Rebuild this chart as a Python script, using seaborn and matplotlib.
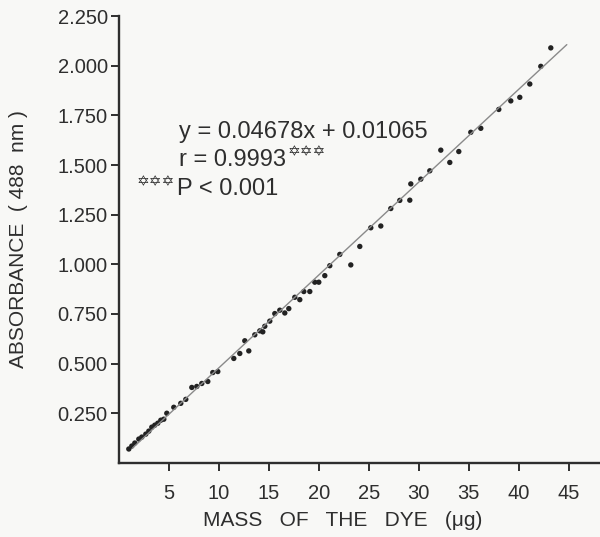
import numpy as np
import pandas as pd
import matplotlib
matplotlib.use("Agg")
import matplotlib.pyplot as plt
import seaborn as sns

# Data
mass_ug = [1.0, 1.3, 1.6, 2.0, 2.3, 2.7, 3.0, 3.3, 3.6, 3.9, 4.2, 4.5, 4.8,
           5.5, 6.2, 6.7, 7.3, 7.8, 8.3, 8.9, 9.4, 9.9, 11.5, 12.1, 12.6,
           13.0, 13.6, 14.1, 14.4, 14.6, 15.1, 15.6, 16.1, 16.6, 17.0, 17.6,
           18.1, 18.5, 19.1, 19.6, 20.0, 20.6, 21.1, 22.1, 23.2, 24.1, 25.2,
           26.2, 27.2, 28.1, 29.1, 29.2, 30.2, 31.1, 32.2, 33.1, 34.0, 35.2,
           36.2, 38.0, 39.2, 40.1, 41.1, 42.2, 43.2]
absorbance = [0.070, 0.085, 0.100, 0.120, 0.130, 0.145, 0.160, 0.180, 0.190,
              0.200, 0.215, 0.220, 0.250, 0.280, 0.300, 0.320, 0.380, 0.385,
              0.400, 0.410, 0.455, 0.460, 0.526, 0.551, 0.615, 0.564, 0.645,
              0.665, 0.660, 0.688, 0.714, 0.752, 0.769, 0.755, 0.777, 0.834,
              0.822, 0.863, 0.863, 0.910, 0.910, 0.943, 0.993, 1.050, 0.997,
              1.090, 1.184, 1.193, 1.281, 1.322, 1.323, 1.405, 1.429, 1.471,
              1.575, 1.513, 1.568, 1.665, 1.685, 1.780, 1.823, 1.841, 1.908,
              1.997, 2.090]

# regression from the figure
slope = 0.04678
intercept = 0.01065
line_x = [1.4, 44.8]

x_ticks = [5, 10, 15, 20, 25, 30, 35, 40, 45]
y_ticks = [0.25, 0.5, 0.75, 1.0, 1.25, 1.5, 1.75, 2.0, 2.25]

df = pd.DataFrame({"mass": mass_ug, "abs": absorbance})
fit = pd.DataFrame({"mass": line_x,
                    "abs": [slope * v + intercept for v in line_x]})

sns.set_style("ticks")
plt.rcParams["font.family"] = ["Liberation Sans", "DejaVu Sans"]

bg = "#f8f8f6"
ink = "#2e2e2e"

fig = plt.figure(figsize=(6, 5.37), dpi=100, facecolor=bg)
ax = fig.add_axes([0.198, 0.138, 0.80, 0.832])
ax.set_facecolor(bg)

sns.lineplot(data=fit, x="mass", y="abs", ax=ax, color="#8a8a8a", lw=1.0)
sns.scatterplot(data=df, x="mass", y="abs", ax=ax, color="#222222",
                s=15, edgecolor="none")

ax.set_xlim(0, 48)
ax.set_ylim(0, 2.25)
ax.set_xticks(x_ticks)
ax.set_xticklabels([str(v) for v in x_ticks])
ax.set_yticks(y_ticks)
ax.set_yticklabels(["%.3f" % v for v in y_ticks])

for s in ["top", "right"]:
    ax.spines[s].set_visible(False)
for s in ["left", "bottom"]:
    ax.spines[s].set_linewidth(1.7)
    ax.spines[s].set_color(ink)
ax.tick_params(axis="both", length=6, width=1.4, color=ink,
               labelsize=14.5, labelcolor=ink)
ax.tick_params(axis="x", pad=9)
ax.tick_params(axis="y", pad=2)

ax.set_xlabel("MASS   OF   THE   DYE   (\u03bcg)", fontsize=15, color=ink,
              va="center")
ax.xaxis.set_label_coords(0.466, -0.128)
ax.set_ylabel("ABSORBANCE  ( 488  nm )", fontsize=15, color=ink,
              va="center")
ax.yaxis.set_label_coords(-0.208, 0.5)

star_font = ["DejaVu Sans"]
ax.text(6.0, 1.668, "y = 0.04678x + 0.01065", fontsize=17, color=ink,
        va="center")
ax.text(6.0, 1.527, "r = 0.9993", fontsize=17, color=ink, va="center")
ax.text(16.9, 1.568, "\u2721\u2721\u2721", fontsize=11, color=ink,
        va="center", family=star_font)
ax.text(1.8, 1.417, "\u2721\u2721\u2721", fontsize=11, color=ink,
        va="center", family=star_font)
ax.text(5.8, 1.38, "P < 0.001", fontsize=17, color=ink, va="center")

fig.savefig("out.png", dpi=100, facecolor=bg)
